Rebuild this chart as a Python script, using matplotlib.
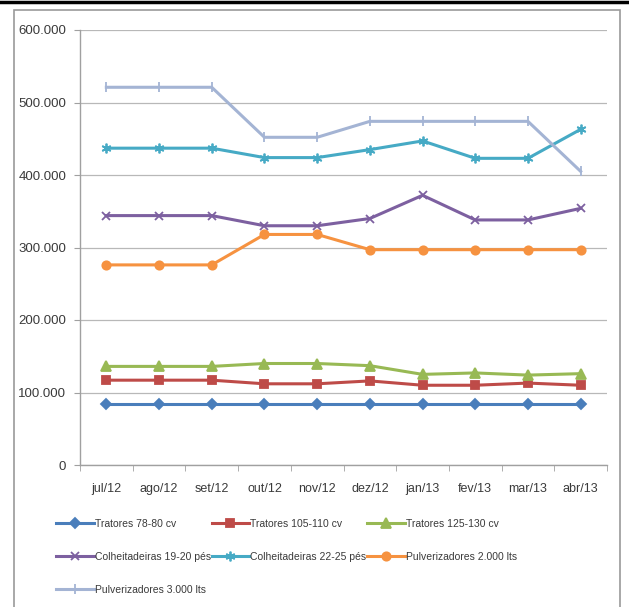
import matplotlib
matplotlib.use('Agg')
import matplotlib.pyplot as plt
import matplotlib.patches as mpatches
from matplotlib.lines import Line2D
from matplotlib.ticker import FuncFormatter, FixedLocator

months = ['jul/12', 'ago/12', 'set/12', 'out/12', 'nov/12',
          'dez/12', 'jan/13', 'fev/13', 'mar/13', 'abr/13']

tratores_78_80 = [84000, 84000, 84000, 84000, 84000, 84000, 84000, 84000, 84000, 84000]
tratores_105_110 = [117000, 117000, 117000, 112000, 112000, 116000, 110000, 110000, 113000, 110000]
tratores_125_130 = [136000, 136000, 136000, 140000, 140000, 137000, 125000, 127000, 124000, 126000]
colh_19_20 = [344000, 344000, 344000, 330000, 330000, 340000, 372000, 338000, 338000, 354000]
colh_22_25 = [437000, 437000, 437000, 424000, 424000, 435000, 447000, 423000, 423000, 463000]
pulv_2000 = [276000, 276000, 276000, 318000, 318000, 297000, 297000, 297000, 297000, 297000]
pulv_3000 = [521000, 521000, 521000, 452000, 452000, 474000, 474000, 474000, 474000, 405000]

labels = ['Tratores 78-80 cv', 'Tratores 105-110 cv', 'Tratores 125-130 cv',
          'Colheitadeiras 19-20 pés', 'Colheitadeiras 22-25 pés',
          'Pulverizadores 2.000 lts', 'Pulverizadores 3.000 lts']
yticks = [0, 100000, 200000, 300000, 400000, 500000, 600000]

series = [tratores_78_80, tratores_105_110, tratores_125_130,
          colh_19_20, colh_22_25, pulv_2000, pulv_3000]
colors = ['#4A7EBB', '#BE4B48', '#98B954', '#7D60A0', '#46AAC5', '#F69240', '#A4B4D4']
markers = ['D', 's', '^', 'x', (6, 2, 0), 'o', '|']
msizes = [5.5, 6, 6.5, 6, 7, 6, 7]

FONT = ['Liberation Sans Narrow', 'Liberation Sans', 'DejaVu Sans']
plt.rcParams['font.family'] = FONT
FS = 7.5

fig = plt.figure(figsize=(6.29, 6.07), dpi=100)
fig.patch.set_facecolor('white')

# outer frame
fig.patches.append(mpatches.Rectangle((14/629, -0.01), (620-14)/629, (607-10)/607 + 0.01,
                                      transform=fig.transFigure, fill=False,
                                      edgecolor='#9A9A9A', lw=1.2))
fig.lines.append(Line2D([0, 1], [1 - 1.5/607, 1 - 1.5/607], transform=fig.transFigure,
                        color='black', lw=2.5))

ax = fig.add_axes([80/629, (607-465)/607, (607-80)/629, (465-30)/607])
x = list(range(len(months)))

for vals, lab, c, m, ms in zip(series, labels, colors, markers, msizes):
    ax.plot(x, vals, color=c, lw=2.2, marker=m, markersize=ms,
            markerfacecolor=c, markeredgecolor=c, markeredgewidth=1.3, label=lab)

ax.set_xlim(-0.5, len(months) - 0.5)
ax.set_ylim(0, 600000)
ax.set_yticks(yticks)
ax.yaxis.set_major_formatter(FuncFormatter(lambda v, p: f'{int(v):,}'.replace(',', '.')))
ax.grid(axis='y', color='#B8B8B8', lw=0.9)
ax.set_axisbelow(True)

ax.set_xticks(x)
ax.set_xticklabels(months)
ax.xaxis.set_minor_locator(FixedLocator([i - 0.5 for i in range(len(months) + 1)]))
ax.tick_params(axis='x', which='major', length=0, pad=13, labelsize=9, labelcolor='#3A3A3A')
ax.tick_params(axis='x', which='minor', length=4, color='#A0A0A0')
ax.tick_params(axis='y', length=4, color='#A0A0A0', pad=6, labelsize=9.5, labelcolor='#3A3A3A')

for s in ['top', 'right']:
    ax.spines[s].set_visible(False)
for s in ['left', 'bottom']:
    ax.spines[s].set_color('#A0A0A0')
    ax.spines[s].set_linewidth(1.0)

handles, labs = ax.get_legend_handles_labels()
order = [0, 3, 6, 1, 4, 2, 5]
fig.legend([handles[i] for i in order], [labs[i] for i in order],
           loc='upper left', bbox_to_anchor=(56/629, (607-519)/607),
           ncol=3, frameon=False, fontsize=FS, handlelength=3.6,
           handletextpad=0.1, columnspacing=0.1, labelspacing=2.2,
           borderpad=0, borderaxespad=0, labelcolor='#3A3A3A')

plt.savefig('out.png', dpi=100, facecolor='white')
plt.close()
